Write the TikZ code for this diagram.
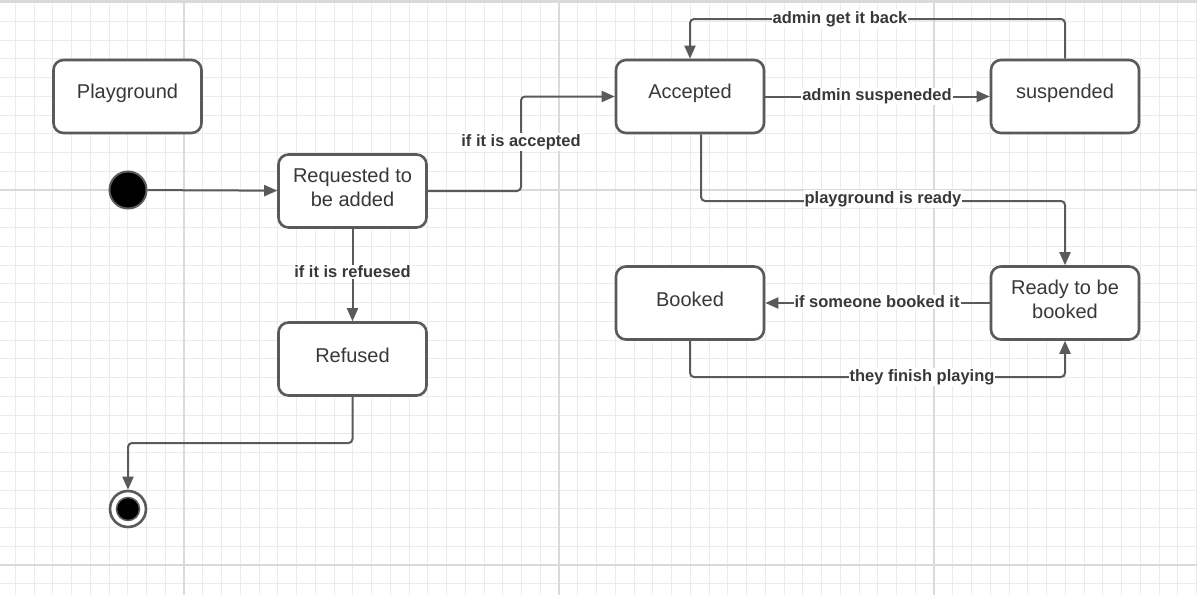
\documentclass[tikz,border=0pt]{standalone}
\usepackage{fontspec}
\setmainfont{Liberation Sans}
\usetikzlibrary{arrows.meta}
\definecolor{lineC}{HTML}{5A5A5A}
\definecolor{txtC}{HTML}{383838}
\definecolor{gridMinor}{HTML}{EBEBEB}
\definecolor{gridMajor}{HTML}{DADADA}
\begin{document}
\begin{tikzpicture}[x=1pt,y=-1pt,
  state/.style={draw=lineC, line width=2.6pt, rounded corners=10pt, fill=white,
    minimum width=148pt, minimum height=73pt, inner sep=0pt},
  stext/.style={text=txtC, font=\fontsize{20}{24}\selectfont, align=center,
    inner sep=0pt, yshift=3.5pt},
  conn/.style={draw=lineC, line width=2pt, rounded corners=4pt,
    -{Triangle[length=13pt,width=11pt]}},
  lbl/.style={fill=white, text=txtC, font=\bfseries\fontsize{16.5}{18}\selectfont, inner sep=1pt},
  gminor/.style={draw=gridMinor, line width=1pt},
  gmajor/.style={draw=gridMajor, line width=2pt}
]
\useasboundingbox[fill=white] (0,0) rectangle (1197,595);
% grid
\foreach \i in {0,...,63} \draw[gminor] ({15.25+\i*18.75},0) -- ++(0,595);
\foreach \j in {0,...,31} \draw[gminor] (0,{2.5+\j*18.75}) -- ++(1197,0);
\foreach \x in {184,559,934} \draw[gmajor] (\x,0) -- ++(0,595);
\foreach \y in {190,565} \draw[gmajor] (0,\y) -- ++(1197,0);
\fill[gridMajor] (0,0) rectangle (1197,3);

% states
\node[state, label={[stext]center:Playground}] (pg)  at (127.5,96.5) {};
\node[state, label={[stext]center:{Requested to\\be added}}] (req) at (352.5,191) {};
\node[state, label={[stext]center:Refused}] (ref) at (352.5,359) {};
\node[state, label={[stext]center:Accepted}] (acc) at (690,96.5) {};
\node[state, label={[stext]center:suspended}] (sus) at (1065,96.5) {};
\node[state, label={[stext]center:Booked}] (bkd) at (690,303) {};
\node[state, label={[stext]center:{Ready to be\\booked}}] (rdy) at (1065,303) {};

% pseudo states
\node[circle, fill=black, draw=lineC, line width=2pt, minimum size=37pt, inner sep=0pt] (init) at (128,190) {};
\node[circle, fill=white, draw=lineC, line width=2.6pt, minimum size=36pt, inner sep=0pt] (fin) at (128,509) {};
\node[circle, fill=black, draw=lineC, line width=1.5pt, minimum size=23pt, inner sep=0pt] (finin) at (128,509) {};

% junction coordinates
\coordinate (ja) at (521,0);
\coordinate (jr) at (0,443);
\coordinate (jt) at (0,19);
\coordinate (jp) at (701,201);
\coordinate (jb) at (0,377);

% connectors
\draw[conn] (init) -- (req);
\draw[conn] (req.east) -- (req.east -| ja) |- (acc.west);
\draw[conn] (req) -- (ref);
\draw[conn] (ref.south) -- (ref.south |- jr) -| (fin.north);
\draw[conn] (acc) -- (sus);
\draw[conn] (sus.north) -- (sus.north |- jt) -| (acc.north);
\draw[conn] (acc.south -| jp) -- (jp) -| (rdy.north);
\draw[conn] (rdy) -- (bkd);
\draw[conn] (bkd.south) -- (bkd.south |- jb) -| (rdy.south);

% labels
\node[lbl] (la) at (521,142) {if it is accepted};
\node[lbl] (lr) at (352.5,272) {if it is refuesed};
\node[lbl] (ls) at (877,96.5) {admin suspeneded};
\node[lbl] (lg) at (840,19) {admin get it back};
\node[lbl] (lp) at (883,199) {playground is ready};
\node[lbl] (lb) at (877,302) {if someone booked it};
\node[lbl] (lf) at (922,377) {they finish playing};
\end{tikzpicture}
\end{document}
